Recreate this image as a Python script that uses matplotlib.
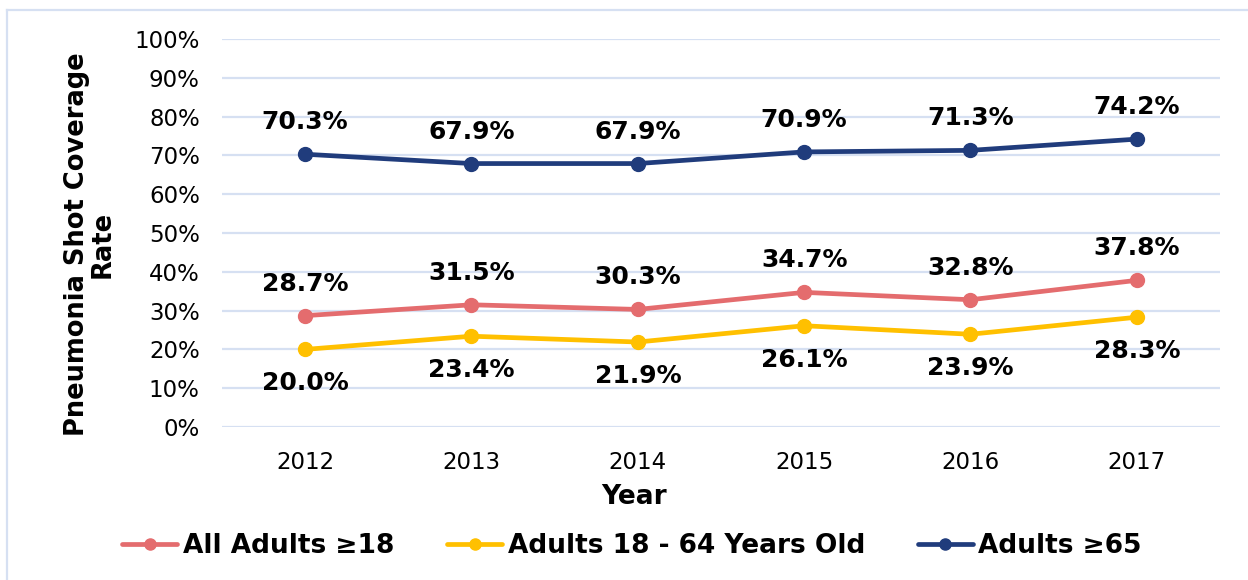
import matplotlib
matplotlib.use("Agg")
import matplotlib.pyplot as plt
from matplotlib.lines import Line2D

years = ["2012", "2013", "2014", "2015", "2016", "2017"]
all_adults = [28.7, 31.5, 30.3, 34.7, 32.8, 37.8]
adults_18_64 = [20.0, 23.4, 21.9, 26.1, 23.9, 28.3]
adults_65 = [70.3, 67.9, 67.9, 70.9, 71.3, 74.2]
series_names = ["All Adults \u226518", "Adults 18 - 64 Years Old", "Adults \u226565"]
yticks = list(range(0, 101, 10))

plt.rcParams['font.family'] = ['DejaVu Sans']

W, H = 1248, 580
fig = plt.figure(figsize=(W / 100, H / 100), dpi=100)
ax = fig.add_axes([222 / W, 1 - 427 / H, 998 / W, (427 - 39) / H])

x = list(range(len(years)))
colors = ["#E46C6E", "#FFC000", "#203C7C"]
series = [all_adults, adults_18_64, adults_65]
offsets = [23, -24.5, 23]
for vals, c, name, off in zip(series, colors, series_names, offsets):
    ax.plot(x, vals, color=c, lw=3.4, marker='o', markersize=10, label=name,
            solid_capstyle='round', zorder=3)
    for xi, v in zip(x, vals):
        ax.annotate(f"{v:.1f}%", (xi, v), xytext=(0, off), textcoords='offset points',
                    ha='center', va='center', fontsize=18, fontweight='bold', color='black')

ax.set_xlim(-0.5, len(years) - 0.5)
ax.set_ylim(0, 100)
ax.set_yticks(yticks)
ax.set_yticklabels([f"{t}%" for t in yticks], fontsize=16.5)
ax.set_xticks(x)
ax.set_xticklabels(years, fontsize=16.5)
ax.tick_params(axis='y', length=0, pad=16)
ax.tick_params(axis='x', length=0, pad=17)
ax.grid(axis='y', color='#D6E0F2', lw=1.6)
ax.set_axisbelow(True)
for s in ax.spines.values():
    s.set_visible(False)

fig.text(634 / W, 1 - 497 / H, "Year", ha='center', va='center', fontsize=19, fontweight='bold')
fig.text(90 / W, 1 - 244 / H, "Pneumonia Shot Coverage\nRate", rotation=90,
         ha='center', va='center', fontsize=18.5, fontweight='bold', linespacing=1.0)

fig.legend(loc='center', bbox_to_anchor=(632 / W, 1 - 546 / H), ncol=3,
           frameon=False, prop={'size': 19, 'weight': 'bold'},
           handlelength=2.1, handletextpad=0.2, columnspacing=2.0, markerscale=0.8)

fig.add_artist(Line2D([7 / W, 1.0], [1 - 9.5 / H] * 2, transform=fig.transFigure,
                      color='#D6E0F2', lw=1.6))
fig.add_artist(Line2D([7 / W] * 2, [1 - 9.5 / H, 0.0], transform=fig.transFigure,
                      color='#D6E0F2', lw=1.6))

fig.savefig("out.png", dpi=100)
